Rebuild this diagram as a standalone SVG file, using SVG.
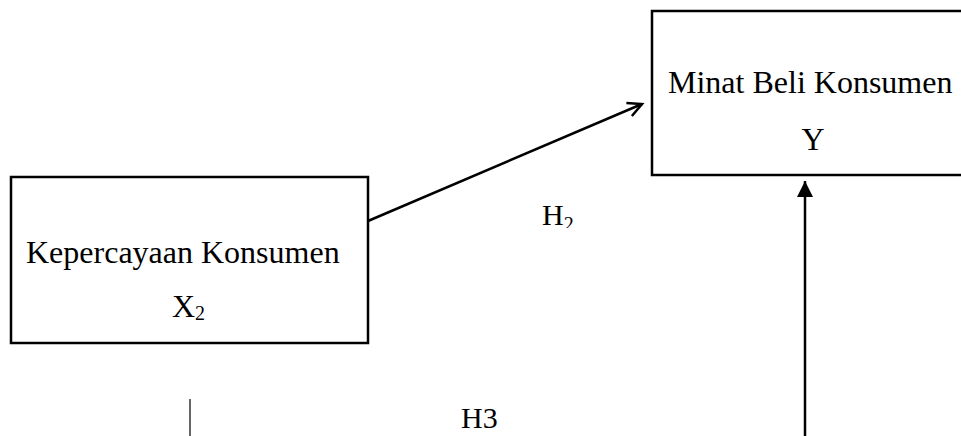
<svg xmlns="http://www.w3.org/2000/svg" width="961" height="436" viewBox="0 0 961 436">
<style>
.box{fill:#fff;stroke:#000;stroke-width:2.5}
.t{font-family:"Liberation Serif","Times New Roman",serif;font-size:32px;fill:#000}
.h{font-family:"Liberation Serif","Times New Roman",serif;font-size:30px;fill:#000}
.sub{font-size:20px}
.ln{stroke:#000;stroke-width:2.5;fill:none}
</style>
<defs>
<marker id="open" markerWidth="20" markerHeight="20" refX="16" refY="8" orient="auto" markerUnits="userSpaceOnUse" viewBox="0 0 20 16">
<path d="M2,1 L16,8 L2,15" fill="none" stroke="#000" stroke-width="2.5"/>
</marker>
<marker id="solid" markerWidth="16" markerHeight="16" refX="16" refY="8" orient="auto" markerUnits="userSpaceOnUse" viewBox="0 0 16 16">
<path d="M0,0 L16,8 L0,16 Z" fill="#000"/>
</marker>
<clipPath id="clipH2"><rect x="530" y="190" width="60" height="38"/></clipPath>
</defs>
<g id="node-x2">
<rect class="box" x="11" y="177" width="357" height="166"/>
<text class="t" x="26" y="263">Kepercayaan Konsumen</text>
<text class="t" x="172" y="317">X<tspan class="sub" dy="3">2</tspan></text>
</g>
<g id="node-y">
<rect class="box" x="652" y="11" width="320" height="164"/>
<text class="t" x="668" y="93">Minat Beli Konsumen</text>
<text class="t" x="813" y="150" text-anchor="middle">Y</text>
</g>
<g id="connectors">
<line class="ln" x1="368" y1="221" x2="642" y2="104" marker-end="url(#open)"/>
<line class="ln" x1="805" y1="436" x2="805" y2="181" marker-end="url(#solid)"/>
<line x1="190" y1="399" x2="190" y2="436" stroke="#000" stroke-width="1.2"/>
</g>
<g id="labels">
<text class="h" x="542" y="225" clip-path="url(#clipH2)">H<tspan class="sub" dy="6">2</tspan></text>
<text class="h" x="461" y="428">H3</text>
</g>
</svg>
